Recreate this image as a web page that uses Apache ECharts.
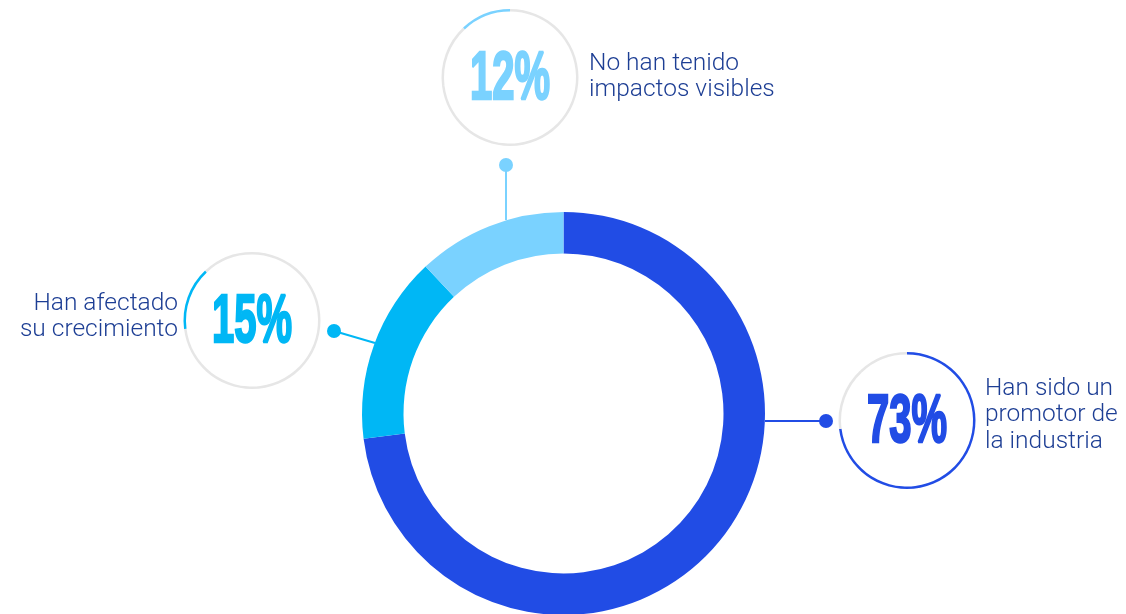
<!DOCTYPE html>
<html>
<head>
<meta charset="utf-8">
<script src="https://cdn.jsdelivr.net/npm/echarts@6/dist/echarts.min.js"></script>
<style>
  html, body { margin: 0; padding: 0; background: #fff; }
  #chart { width: 1126px; height: 614px; }
</style>
</head>
<body>
<div id="chart"></div>
<script>
// datos
const categories = ['Han sido un\npromotor de\nla industria', 'Han afectado\nsu crecimiento', 'No han tenido\nimpactos visibles'];
const values = [73, 15, 12];
const pctLabels = ['73%', '15%', '12%'];

const colors = ['#214ce5', '#00b7f5', '#7ad2ff'];
const grey = '#e6e6e6';
const navy = '#1d3e94';

// posicion de cada circulo pequeño, texto y conector
const badges = [
  { c: [907, 420.5], text: [985, 395], align: 'left', line: [[765, 421], [826, 421]] },
  { c: [252, 320.5], text: [178, 310], align: 'right', line: [[375, 343], [334, 331]] },
  { c: [510, 77.5], text: [589, 70], align: 'left', line: [[506, 220], [506, 165]] }
];

const chart = echarts.init(document.getElementById('chart'));

const donutData = values.map((v, i) => ({ name: categories[i], value: v, itemStyle: { color: colors[i] } }));

const series = [{
  type: 'pie',
  center: [563.5, 413.5],
  radius: [160, 201.5],
  startAngle: 90,
  silent: true,
  label: { show: false },
  labelLine: { show: false },
  data: donutData
}];

badges.forEach((b, k) => {
  series.push({
    type: 'pie',
    center: b.c,
    radius: [66, 68.5],
    startAngle: 90,
    silent: true,
    label: { show: false },
    labelLine: { show: false },
    data: values.map((v, i) => ({ name: categories[i], value: v, itemStyle: { color: i === k ? colors[k] : grey } }))
  });
});

const graphic = [];
badges.forEach((b, k) => {
  graphic.push({
    type: 'polyline',
    silent: true,
    shape: { points: b.line },
    style: { stroke: colors[k], lineWidth: 2, fill: null }
  });
  graphic.push({
    type: 'circle',
    silent: true,
    shape: { cx: b.line[1][0], cy: b.line[1][1], r: 7 },
    style: { fill: colors[k] }
  });
  graphic.push({
    type: 'text',
    silent: true,
    x: b.c[0],
    y: b.c[1] + 2,
    scaleX: 0.58,
    style: {
      text: pctLabels[k],
      font: 'bold 69px "Liberation Sans", Arial, sans-serif',
      fill: colors[k],
      stroke: colors[k],
      lineWidth: 2.5,
      textAlign: 'center',
      textVerticalAlign: 'middle',
      align: 'center',
      verticalAlign: 'middle'
    }
  });
  graphic.push({
    type: 'text',
    silent: true,
    x: b.text[0],
    y: b.text[1] - 19.5,
    style: {
      text: categories[k],
      font: '300 24.5px Roboto, "Liberation Sans", sans-serif',
      lineHeight: 26.5,
      fill: navy,
      textAlign: b.align,
      align: b.align,
      textVerticalAlign: 'top',
      verticalAlign: 'top'
    }
  });
});

chart.setOption({
  backgroundColor: '#fff',
  animation: false,
  series: series,
  graphic: graphic
});
</script>
</body>
</html>
